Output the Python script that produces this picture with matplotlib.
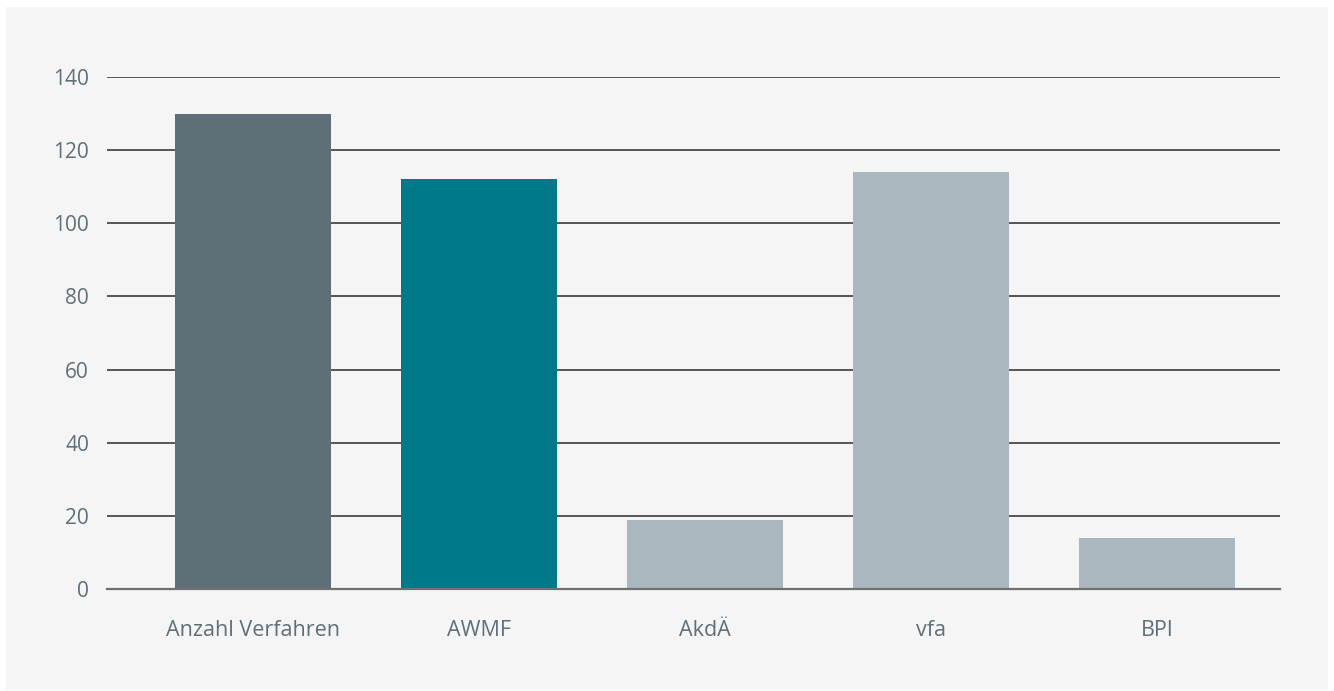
import matplotlib.pyplot as plt
from matplotlib.patches import Rectangle

# Data
categories = ['Anzahl Verfahren', 'AWMF', 'AkdÄ', 'vfa', 'BPI']
values = [130, 112, 19, 114, 14]
colors = ['#5f6f78', '#007a8a', '#abb7bf', '#abb7bf', '#abb7bf']
yticks = [0, 20, 40, 60, 80, 100, 120, 140]

plt.rcParams['font.family'] = ['Open Sans', 'DejaVu Sans']

W, H = 1334, 691
fig = plt.figure(figsize=(W / 100, H / 100), dpi=100, facecolor='white')

# light gray panel with a thin white margin
fig.patches.append(Rectangle((6 / W, 1 / H), 1322 / W, 683 / H,
                             transform=fig.transFigure, facecolor='#f5f5f5',
                             edgecolor='none', zorder=-1))

ax = fig.add_axes([107 / W, 1 - 589 / H, (1280 - 107) / W, (589 - 77) / H])
ax.set_facecolor('none')

x = list(range(len(categories)))
ax.bar(x, values, width=0.69, color=colors, zorder=3)

ax.set_xlim(-0.646, 4.544)
ax.set_ylim(0, 140)
ax.set_yticks(yticks)
ax.set_xticks(x)
ax.set_xticklabels(categories)

ax.grid(axis='y', color='#555555', linewidth=1.4, zorder=1)
ax.grid(axis='x', visible=False)
for s in ['top', 'right', 'left']:
    ax.spines[s].set_visible(False)
ax.spines['bottom'].set_color('#707070')
ax.spines['bottom'].set_linewidth(1.6)
ax.spines['bottom'].set_zorder(4)

ax.tick_params(axis='both', length=0, labelcolor='#5f6f78')
ax.tick_params(axis='y', pad=13, labelsize=15)
ax.tick_params(axis='x', pad=22, labelsize=15.5)

fig.savefig('out.png', dpi=100, facecolor='white')
